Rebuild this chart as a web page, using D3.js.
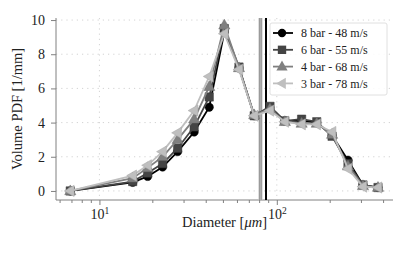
<!DOCTYPE html>
<html>
<head>
<meta charset="utf-8">
<script src="https://cdn.jsdelivr.net/npm/d3@7"></script>
<style>
  body { margin: 0; background: #fff; }
  svg { font-family: "Liberation Serif", "DejaVu Serif", serif; }
</style>
</head>
<body>
<div id="chart"></div>
<script>
// bin diameters [um]
var diameters = [6.85, 15.4, 18.7, 22.7, 27.6, 34.2, 41.6, 50.6, 61.2, 74.6, 91.5, 111, 138, 168, 205, 252, 306, 372];

// volume pdf per series
var bar8 = [0, 0.5, 0.85, 1.4, 2.3, 3.45, 4.9, 9.3, 7.2, 4.4, 4.85, 4.1, 4.1, 4.0, 3.25, 1.8, 0.35, 0.2];
var bar6 = [0, 0.55, 1.05, 1.6, 2.5, 3.75, 5.5, 9.5, 7.25, 4.4, 4.95, 4.1, 4.2, 4.05, 3.2, 1.6, 0.35, 0.2];
var bar4 = [0, 0.75, 1.35, 2.0, 3.0, 4.2, 6.1, 9.7, 7.2, 4.45, 4.8, 4.05, 3.95, 3.95, 3.3, 1.45, 0.3, 0.2];
var bar3 = [0, 0.9, 1.5, 2.3, 3.4, 4.7, 6.7, 9.2, 7.1, 4.4, 4.7, 4.05, 3.9, 3.9, 3.45, 1.3, 0.25, 0.2];

var seriesNames = ["8 bar - 48 m/s", "6 bar - 55 m/s", "4 bar - 68 m/s", "3 bar - 78 m/s"];
var seriesColors = ["#000000", "#444444", "#808080", "#bfbfbf"];
var seriesMarkers = ["circle", "square", "up", "left"];

// mean diameter markers (vertical lines)
var meanLines = [80.9, 80.1, 81.7, 86.9];

var yTicks = [0, 2, 4, 6, 8, 10];
var xMajor = [10, 100];
var xMinor = [6, 7, 8, 9, 20, 30, 40, 50, 60, 70, 80, 90, 200, 300, 400];

var width = 411, height = 254;
var margin = {left: 56, right: 18, top: 18, bottom: 54};

var svg = d3.select("#chart").append("svg")
    .attr("width", width)
    .attr("height", height);

var x = d3.scaleLog()
    .domain([5.69, 452])
    .range([margin.left, width - margin.right]);

var y = d3.scaleLinear()
    .domain([-0.53, 10.12])
    .range([height - margin.bottom, margin.top]);

// grid
svg.append("g").selectAll("line.hg")
    .data(yTicks)
    .join("line")
    .attr("x1", margin.left).attr("x2", width - margin.right)
    .attr("y1", d => y(d)).attr("y2", d => y(d))
    .attr("stroke", "#c8c8c8").attr("stroke-width", 0.8)
    .attr("stroke-dasharray", "1.2,4");

svg.append("g").selectAll("line.vg")
    .data(xMajor)
    .join("line")
    .attr("x1", d => x(d)).attr("x2", d => x(d))
    .attr("y1", margin.top).attr("y2", height - margin.bottom)
    .attr("stroke", "#c8c8c8").attr("stroke-width", 0.8)
    .attr("stroke-dasharray", "1.2,4");

// axes
var yAxis = d3.axisLeft(y).tickValues(yTicks).tickSize(5).tickPadding(6);
var gy = svg.append("g")
    .attr("transform", `translate(${margin.left},0)`)
    .call(yAxis);
gy.select(".domain").attr("stroke", "#808080").attr("d", `M0,${y.range()[0]}V${y.range()[1]}`);
gy.selectAll(".tick line").attr("stroke", "#808080");
gy.selectAll(".tick text").attr("font-size", 14).attr("fill", "#222")
    .attr("font-family", "Liberation Serif, serif");

var xAxis = d3.axisBottom(x).tickValues(xMajor).tickSize(5).tickPadding(3).tickFormat("");
var gx = svg.append("g")
    .attr("transform", `translate(0,${height - margin.bottom})`)
    .call(xAxis);
gx.select(".domain").attr("stroke", "#808080").attr("d", `M${x.range()[0]},0H${x.range()[1]}`);
gx.selectAll(".tick line").attr("stroke", "#808080");
gx.selectAll(".tick text").each(function(d) {
    var t = d3.select(this)
        .attr("font-size", 14).attr("fill", "#222")
        .attr("font-family", "Liberation Serif, serif")
        .attr("dy", "0.75em");
    t.append("tspan").text("10");
    t.append("tspan").attr("font-size", 9.5).attr("dy", "-0.5em").text(Math.round(Math.log10(d)));
});

gx.selectAll("line.minor")
    .data(xMinor)
    .join("line")
    .attr("class", "minor")
    .attr("x1", d => x(d)).attr("x2", d => x(d))
    .attr("y1", 0).attr("y2", 3)
    .attr("stroke", "#808080");

// axis labels
svg.append("text")
    .attr("x", (x.range()[0] + x.range()[1]) / 2)
    .attr("y", 227)
    .attr("text-anchor", "middle")
    .attr("font-size", 14.5)
    .attr("fill", "#222")
    .html('Diameter [<tspan font-style="italic">μm</tspan>]');

svg.append("text")
    .attr("transform", `translate(22,${(y.range()[0] + y.range()[1]) / 2}) rotate(-90)`)
    .attr("text-anchor", "middle")
    .attr("font-size", 14.5)
    .attr("fill", "#222")
    .text("Volume PDF [1/mm]");

// vertical mean lines
var meanColors = ["#c4c4c4", "#909090", "#909090", "#000000"];
var meanWidths = [4, 1, 1, 2];
svg.append("g").selectAll("line")
    .data(meanLines)
    .join("line")
    .attr("x1", d => x(d)).attr("x2", d => x(d))
    .attr("y1", margin.top).attr("y2", height - margin.bottom)
    .attr("stroke", (d, i) => meanColors[i])
    .attr("stroke-width", (d, i) => meanWidths[i]);

// marker shapes
function markerPath(type) {
    if (type === "circle") return d3.symbol().type(d3.symbolCircle).size(55)();
    if (type === "square") return d3.symbol().type(d3.symbolSquare).size(70)();
    if (type === "up") return "M0,-6L5.6,3.8L-5.6,3.8Z";
    return "M-6,0L3.8,-5.6L3.8,5.6Z";
}

var allSeries = [bar8, bar6, bar4, bar3];
var line = d3.line()
    .x((d, i) => x(diameters[i]))
    .y(d => y(d));

allSeries.forEach((vals, s) => {
    var g = svg.append("g");
    g.append("path")
        .datum(vals)
        .attr("d", line)
        .attr("fill", "none")
        .attr("stroke", seriesColors[s])
        .attr("stroke-width", 1.8);
    g.selectAll("path.m")
        .data(vals)
        .join("path")
        .attr("class", "m")
        .attr("transform", (d, i) => `translate(${x(diameters[i])},${y(d)})`)
        .attr("d", markerPath(seriesMarkers[s]))
        .attr("fill", seriesColors[s])
        .attr("stroke", d3.color(seriesColors[s]).darker(0.4))
        .attr("stroke-width", 0.5);
});

// legend
var lg = svg.append("g").attr("transform", "translate(270,23)");
lg.append("rect")
    .attr("width", 117).attr("height", 72)
    .attr("rx", 2)
    .attr("fill", "#fff").attr("fill-opacity", 0.85)
    .attr("stroke", "#e0e0e0");
seriesNames.forEach((name, i) => {
    var row = lg.append("g").attr("transform", `translate(0,${10 + i * 16.8})`);
    row.append("line")
        .attr("x1", 3).attr("x2", 23)
        .attr("stroke", seriesColors[i]).attr("stroke-width", 1.8);
    row.append("path")
        .attr("transform", "translate(12,0)")
        .attr("d", markerPath(seriesMarkers[i]))
        .attr("fill", seriesColors[i]);
    row.append("text")
        .attr("x", 31).attr("y", 0).attr("dy", "0.35em")
        .attr("font-size", 12)
        .attr("fill", "#222")
        .text(name);
});
</script>
</body>
</html>
